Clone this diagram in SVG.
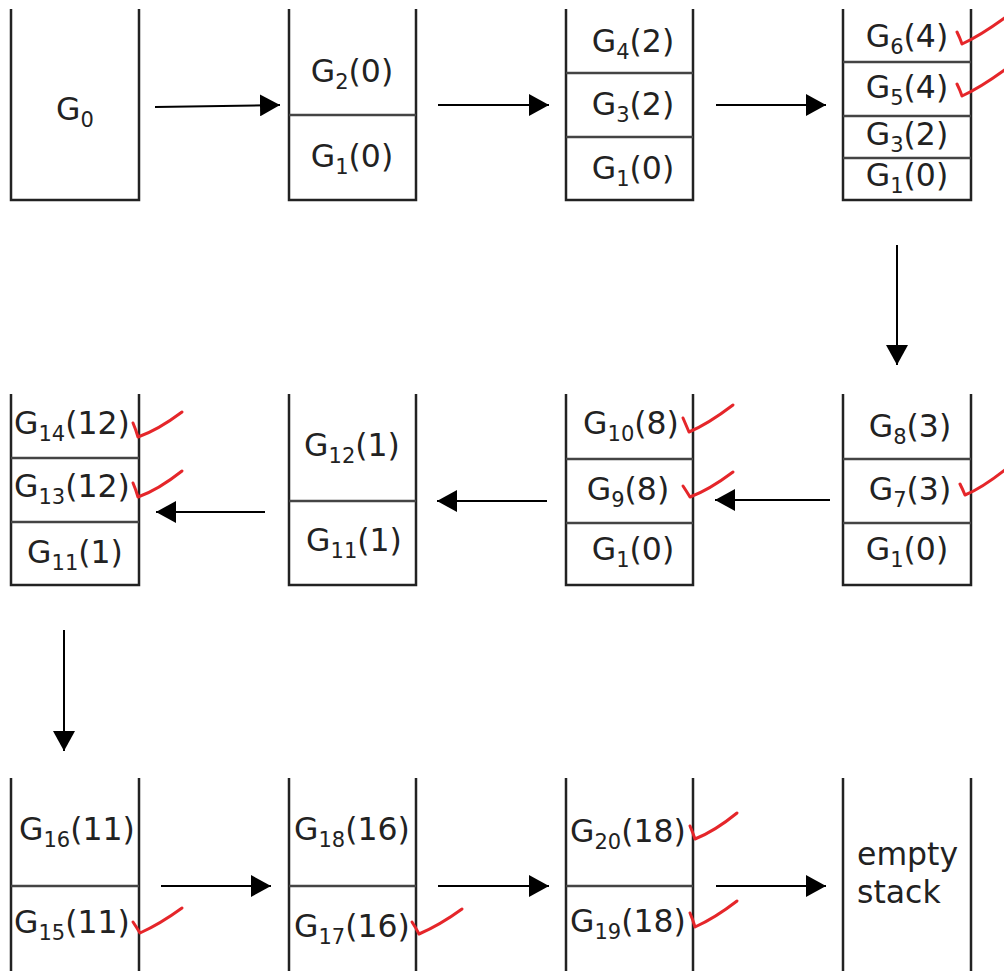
<svg xmlns="http://www.w3.org/2000/svg" width="1004" height="971" viewBox="0 0 1004 971">
  <style>
    .stack { fill: none; stroke: #222; stroke-width: 2.5; }
    .div { stroke: #444; stroke-width: 2.5; }
    .lbl { font-family: "DejaVu Sans", "Liberation Sans", sans-serif; font-size: 31.5px; fill: #222; text-anchor: middle; }
    .lft { text-anchor: start; }
    .sub { font-size: 21px; }
    .arrow { stroke: #000; stroke-width: 2; fill: none; marker-end: url(#head); }
    .tick { fill: none; stroke: #e5262a; stroke-width: 3; stroke-linecap: round; stroke-linejoin: round; }
  </style>
  <defs>
    <marker id="head" viewBox="0 0 20 22" refX="20" refY="11" markerWidth="20" markerHeight="22" markerUnits="userSpaceOnUse" orient="auto">
      <path d="M0,0 L20,11 L0,22 Z" fill="#000"/>
    </marker>
  </defs>

  <!-- Row 1 -->
  <g id="s1">
    <path class="stack" d="M11,9 V200 H139 V9"/>
    <text class="lbl" x="75" y="120">G<tspan class="sub" dy="7">0</tspan></text>
  </g>
  <g id="s2">
    <path class="stack" d="M289,9 V200 H416 V9"/>
    <line class="div" x1="289" y1="115" x2="416" y2="115"/>
    <text class="lbl" x="352" y="82">G<tspan class="sub" dy="7">2</tspan><tspan dy="-7">(0)</tspan></text>
    <text class="lbl" x="352" y="167">G<tspan class="sub" dy="7">1</tspan><tspan dy="-7">(0)</tspan></text>
  </g>
  <g id="s3">
    <path class="stack" d="M566,9 V200 H693 V9"/>
    <line class="div" x1="566" y1="73" x2="693" y2="73"/>
    <line class="div" x1="566" y1="137" x2="693" y2="137"/>
    <text class="lbl" x="633" y="52">G<tspan class="sub" dy="7">4</tspan><tspan dy="-7">(2)</tspan></text>
    <text class="lbl" x="633" y="115">G<tspan class="sub" dy="7">3</tspan><tspan dy="-7">(2)</tspan></text>
    <text class="lbl" x="633" y="179">G<tspan class="sub" dy="7">1</tspan><tspan dy="-7">(0)</tspan></text>
  </g>
  <g id="s4">
    <path class="stack" d="M843,9 V200 H971 V9"/>
    <line class="div" x1="843" y1="62" x2="971" y2="62"/>
    <line class="div" x1="843" y1="116" x2="971" y2="116"/>
    <line class="div" x1="843" y1="158" x2="971" y2="158"/>
    <text class="lbl" x="907" y="47">G<tspan class="sub" dy="7">6</tspan><tspan dy="-7">(4)</tspan></text>
    <text class="lbl" x="907" y="98">G<tspan class="sub" dy="7">5</tspan><tspan dy="-7">(4)</tspan></text>
    <text class="lbl" x="907" y="145">G<tspan class="sub" dy="7">3</tspan><tspan dy="-7">(2)</tspan></text>
    <text class="lbl" x="907" y="186">G<tspan class="sub" dy="7">1</tspan><tspan dy="-7">(0)</tspan></text>
  </g>

  <!-- Row 2 -->
  <g id="s5">
    <path class="stack" d="M843,394 V585 H971 V394"/>
    <line class="div" x1="843" y1="459" x2="971" y2="459"/>
    <line class="div" x1="843" y1="523" x2="971" y2="523"/>
    <text class="lbl" x="910" y="437">G<tspan class="sub" dy="7">8</tspan><tspan dy="-7">(3)</tspan></text>
    <text class="lbl" x="910" y="500">G<tspan class="sub" dy="7">7</tspan><tspan dy="-7">(3)</tspan></text>
    <text class="lbl" x="907" y="560">G<tspan class="sub" dy="7">1</tspan><tspan dy="-7">(0)</tspan></text>
  </g>
  <g id="s6">
    <path class="stack" d="M566,394 V585 H693 V394"/>
    <line class="div" x1="566" y1="459" x2="693" y2="459"/>
    <line class="div" x1="566" y1="523" x2="693" y2="523"/>
    <text class="lbl" x="631" y="434">G<tspan class="sub" dy="7">10</tspan><tspan dy="-7">(8)</tspan></text>
    <text class="lbl" x="628" y="500">G<tspan class="sub" dy="7">9</tspan><tspan dy="-7">(8)</tspan></text>
    <text class="lbl" x="633" y="560">G<tspan class="sub" dy="7">1</tspan><tspan dy="-7">(0)</tspan></text>
  </g>
  <g id="s7">
    <path class="stack" d="M289,394 V585 H416 V394"/>
    <line class="div" x1="289" y1="501" x2="416" y2="501"/>
    <text class="lbl" x="352" y="456">G<tspan class="sub" dy="7">12</tspan><tspan dy="-7">(1)</tspan></text>
    <text class="lbl" x="354" y="551">G<tspan class="sub" dy="7">11</tspan><tspan dy="-7">(1)</tspan></text>
  </g>
  <g id="s8">
    <path class="stack" d="M11,394 V585 H139 V394"/>
    <line class="div" x1="11" y1="458" x2="139" y2="458"/>
    <line class="div" x1="11" y1="522" x2="139" y2="522"/>
    <text class="lbl" x="72" y="434">G<tspan class="sub" dy="7">14</tspan><tspan dy="-7">(12)</tspan></text>
    <text class="lbl" x="72" y="497">G<tspan class="sub" dy="7">13</tspan><tspan dy="-7">(12)</tspan></text>
    <text class="lbl" x="75" y="563">G<tspan class="sub" dy="7">11</tspan><tspan dy="-7">(1)</tspan></text>
  </g>

  <!-- Row 3 -->
  <g id="s9">
    <path class="stack" d="M11,778 V973 H139 V778"/>
    <line class="div" x1="11" y1="886" x2="139" y2="886"/>
    <text class="lbl" x="77" y="840">G<tspan class="sub" dy="7">16</tspan><tspan dy="-7">(11)</tspan></text>
    <text class="lbl" x="72" y="933">G<tspan class="sub" dy="7">15</tspan><tspan dy="-7">(11)</tspan></text>
  </g>
  <g id="s10">
    <path class="stack" d="M289,778 V973 H416 V778"/>
    <line class="div" x1="289" y1="886" x2="416" y2="886"/>
    <text class="lbl" x="352" y="840">G<tspan class="sub" dy="7">18</tspan><tspan dy="-7">(16)</tspan></text>
    <text class="lbl" x="352" y="937">G<tspan class="sub" dy="7">17</tspan><tspan dy="-7">(16)</tspan></text>
  </g>
  <g id="s11">
    <path class="stack" d="M566,778 V973 H693 V778"/>
    <line class="div" x1="566" y1="886" x2="693" y2="886"/>
    <text class="lbl" x="628" y="842">G<tspan class="sub" dy="7">20</tspan><tspan dy="-7">(18)</tspan></text>
    <text class="lbl" x="628" y="932">G<tspan class="sub" dy="7">19</tspan><tspan dy="-7">(18)</tspan></text>
  </g>
  <g id="s12">
    <path class="stack" d="M843,778 V973 H971 V778"/>
    <text class="lbl lft" x="857" y="865">empty</text>
    <text class="lbl lft" x="857" y="903">stack</text>
  </g>

  <!-- Connectors -->
  <g id="connectors">
    <line class="arrow" x1="155" y1="107" x2="280" y2="105"/>
    <line class="arrow" x1="438" y1="105" x2="549" y2="105"/>
    <line class="arrow" x1="716" y1="105" x2="826" y2="105"/>
    <line class="arrow" x1="897" y1="245" x2="897" y2="365"/>
    <line class="arrow" x1="830" y1="500" x2="715" y2="500"/>
    <line class="arrow" x1="547" y1="501" x2="437" y2="501"/>
    <line class="arrow" x1="265" y1="512" x2="156" y2="512"/>
    <line class="arrow" x1="64" y1="630" x2="64" y2="751"/>
    <line class="arrow" x1="161" y1="886" x2="271" y2="886"/>
    <line class="arrow" x1="438" y1="886" x2="549" y2="886"/>
    <line class="arrow" x1="716" y1="886" x2="826" y2="886"/>
  </g>

  <!-- Check marks -->
  <g id="ticks">
    <path class="tick" d="M957,32 Q960,38 962,44 Q980,36 1006,17"/>
    <path class="tick" d="M957,84 Q960,90 962,96 Q980,88 1006,69"/>
    <path class="tick" d="M960,484 Q963,490 965,495 Q982,488 1006,469"/>
    <path class="tick" d="M683,418 Q686,425 689,432 Q708,424 733,405"/>
    <path class="tick" d="M683,486 Q687,492 690,497 Q709,490 733,472"/>
    <path class="tick" d="M133,423 Q136,430 138,437 Q158,430 182,412"/>
    <path class="tick" d="M133,483 Q136,490 138,497 Q158,490 182,471"/>
    <path class="tick" d="M133,922 Q137,928 140,933 Q160,924 182,908"/>
    <path class="tick" d="M412,922 Q416,928 419,934 Q440,925 462,909"/>
    <path class="tick" d="M690,826 Q693,833 695,839 Q715,831 737,813"/>
    <path class="tick" d="M690,913 Q693,920 695,927 Q715,918 737,901"/>
  </g>
</svg>
